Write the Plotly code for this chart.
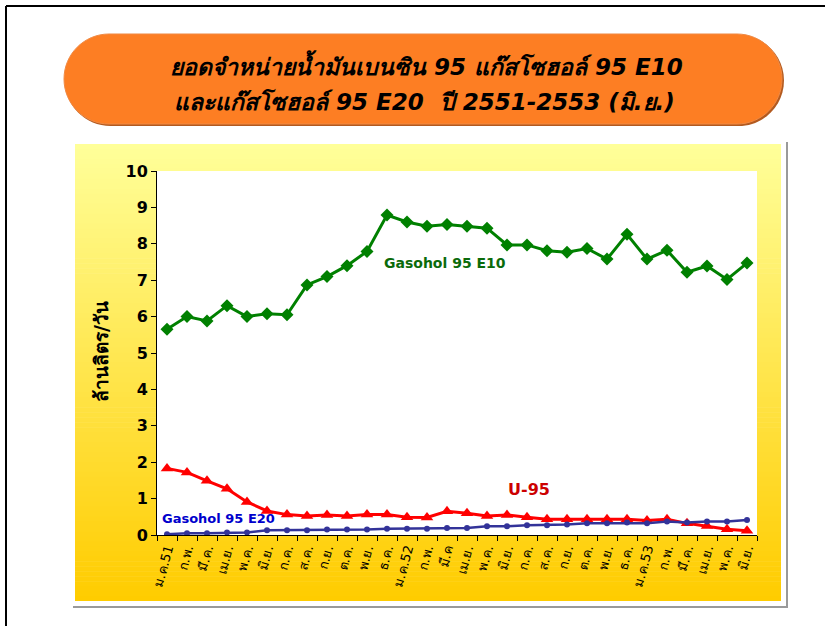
import plotly.graph_objects as go

months = ["ม.ค.51", "ก.พ.", "มี.ค.", "เม.ย.", "พ.ค.", "มิ.ย.", "ก.ค.", "ส.ค.", "ก.ย.", "ต.ค.",
          "พ.ย.", "ธ.ค.", "ม.ค.52", "ก.พ.", "มี.ค", "เม.ย.", "พ.ค.", "มิ.ย.", "ก.ค.", "ส.ค.",
          "ก.ย.", "ต.ค.", "พ.ย.", "ธ.ค.", "ม.ค.53", "ก.พ.", "มี.ค.", "เม.ย.", "พ.ค.", "มิ.ย."]

gasohol_e10 = [5.65, 6.00, 5.88, 6.30, 6.00, 6.08, 6.05, 6.87, 7.10, 7.40,
               7.79, 8.79, 8.60, 8.48, 8.53, 8.48, 8.43, 7.97, 7.97, 7.81,
               7.77, 7.87, 7.58, 8.26, 7.58, 7.82, 7.22, 7.39, 7.02, 7.47]

u95 = [1.83, 1.72, 1.49, 1.27, 0.91, 0.66, 0.56, 0.52, 0.55, 0.52,
       0.56, 0.56, 0.49, 0.48, 0.65, 0.60, 0.52, 0.55, 0.49, 0.43,
       0.43, 0.43, 0.43, 0.43, 0.40, 0.43, 0.32, 0.25, 0.16, 0.12]

gasohol_e20 = [0.02, 0.05, 0.05, 0.07, 0.07, 0.13, 0.13, 0.13, 0.15, 0.15,
               0.15, 0.17, 0.17, 0.17, 0.19, 0.19, 0.24, 0.24, 0.27, 0.27,
               0.29, 0.32, 0.32, 0.34, 0.32, 0.37, 0.34, 0.37, 0.37, 0.41]

y_ticks = [0, 1, 2, 3, 4, 5, 6, 7, 8, 9, 10]

title_line1 = "ยอดจำหน่ายน้ำมันเบนซิน 95 แก๊สโซฮอล์ 95 E10"
title_line2 = "และแก๊สโซฮอล์ 95 E20  ปี 2551-2553 (มิ.ย.)"
y_title = "ล้านลิตร/วัน"

W, H = 825, 626
L, R, T, B = 157, 757, 171, 535
FONT = "Tahoma, 'DejaVu Sans', 'Noto Sans', sans-serif"


def px(x):
    return (x - L) / (R - L)


def py(y):
    return (B - y) / (B - T)


x = list(range(len(months)))

fig = go.Figure()
fig.add_trace(go.Scatter(x=x, y=gasohol_e10, mode="lines+markers", name="Gasohol 95 E10",
                         line=dict(color="#008000", width=3),
                         marker=dict(symbol="diamond", size=10, color="#008000")))
fig.add_trace(go.Scatter(x=x, y=u95, mode="lines+markers", name="U-95",
                         line=dict(color="#FF0000", width=3),
                         marker=dict(symbol="triangle-up", size=11, color="#FF0000")))
fig.add_trace(go.Scatter(x=x, y=gasohol_e20, mode="lines+markers", name="Gasohol 95 E20",
                         line=dict(color="#333399", width=2.5),
                         marker=dict(symbol="circle", size=6, color="#333399")))

shapes = []
# outer frame lines
shapes.append(dict(type="line", xref="paper", yref="paper", x0=px(6), x1=px(826), y0=py(6), y1=py(6),
                   line=dict(color="black", width=2), layer="below"))
shapes.append(dict(type="line", xref="paper", yref="paper", x0=px(6), x1=px(6), y0=py(6), y1=py(627),
                   line=dict(color="black", width=2), layer="below"))


def pill(x0, y0, x1, y1):
    r = (y1 - y0) / 2.0
    k = 0.5523 * r
    xl, xr = x0 + r, x1 - r
    ym = (y0 + y1) / 2.0
    pts = []
    pts.append("M%f,%f" % (px(xl), py(y0)))
    pts.append("L%f,%f" % (px(xr), py(y0)))
    pts.append("C%f,%f %f,%f %f,%f" % (px(xr + k), py(y0), px(x1), py(ym - k), px(x1), py(ym)))
    pts.append("C%f,%f %f,%f %f,%f" % (px(x1), py(ym + k), px(xr + k), py(y1), px(xr), py(y1)))
    pts.append("L%f,%f" % (px(xl), py(y1)))
    pts.append("C%f,%f %f,%f %f,%f" % (px(xl - k), py(y1), px(x0), py(ym + k), px(x0), py(ym)))
    pts.append("C%f,%f %f,%f %f,%f" % (px(x0), py(ym - k), px(xl - k), py(y0), px(xl), py(y0)))
    pts.append("Z")
    return " ".join(pts)


# title pill shadow + pill
shapes.append(dict(type="path", xref="paper", yref="paper", path=pill(65, 35, 784, 126),
                   fillcolor="#B35A1F", line=dict(width=0), layer="below"))
shapes.append(dict(type="path", xref="paper", yref="paper", path=pill(64, 34, 782, 124),
                   fillcolor="#FD7E23", line=dict(color="#F08A45", width=1), layer="below"))

# chart box shadow
shapes.append(dict(type="line", xref="paper", yref="paper", x0=px(787), x1=px(787), y0=py(142), y1=py(608),
                   line=dict(color="#9A9A9A", width=2), layer="below"))
shapes.append(dict(type="line", xref="paper", yref="paper", x0=px(73), x1=px(788), y0=py(607), y1=py(607),
                   line=dict(color="#9A9A9A", width=2), layer="below"))

# yellow gradient box
bx0, bx1, by0, by1 = 75, 781, 144, 601
n = 92
c_top = (255, 255, 153)
c_bot = (255, 204, 0)
step = (by1 - by0) / n
for i in range(n):
    t = i / (n - 1)
    c = tuple(int(round(c_top[j] + (c_bot[j] - c_top[j]) * t)) for j in range(3))
    ya = by0 + i * step
    yb = min(by1, ya + step + 0.6)
    shapes.append(dict(type="rect", xref="paper", yref="paper", x0=px(bx0), x1=px(bx1),
                       y0=py(ya), y1=py(yb), fillcolor="rgb(%d,%d,%d)" % c,
                       line=dict(width=0), layer="below"))
# white plot area
shapes.append(dict(type="rect", xref="paper", yref="paper", x0=0, x1=1, y0=0, y1=1,
                   fillcolor="white", line=dict(width=0), layer="below"))

annotations = [
    dict(text=title_line1, xref="paper", yref="paper", x=px(426), y=py(65), showarrow=False,
         font=dict(family=FONT, size=23, color="black", weight="bold", style="italic"),
         xanchor="center", yanchor="middle"),
    dict(text=title_line2, xref="paper", yref="paper", x=px(424), y=py(101), showarrow=False,
         font=dict(family=FONT, size=23, color="black", weight="bold", style="italic"),
         xanchor="center", yanchor="middle"),
    dict(text=y_title, xref="paper", yref="paper", x=px(101), y=py(352), showarrow=False,
         textangle=-90, font=dict(family=FONT, size=19, color="black", weight="bold"),
         xanchor="center", yanchor="middle"),
    dict(text="Gasohol 95 E10", xref="paper", yref="paper", x=px(445), y=py(263), showarrow=False,
         font=dict(family=FONT, size=14, color="#0B6B0B", weight="bold"),
         xanchor="center", yanchor="middle"),
    dict(text="U-95", xref="paper", yref="paper", x=px(529), y=py(489), showarrow=False,
         font=dict(family=FONT, size=16, color="#CC0000", weight="bold"),
         xanchor="center", yanchor="middle"),
    dict(text="Gasohol 95 E20", xref="paper", yref="paper", x=px(218), y=py(518), showarrow=False,
         font=dict(family=FONT, size=13, color="#0000CC", weight="bold"),
         xanchor="center", yanchor="middle"),
]

fig.update_layout(
    width=W, height=H,
    margin=dict(l=L, r=W - R, t=T, b=H - B, pad=0),
    paper_bgcolor="white",
    plot_bgcolor="rgba(0,0,0,0)",
    showlegend=False,
    hovermode=False,
    shapes=shapes,
    annotations=annotations,
    xaxis=dict(
        range=[-0.5, len(months) - 0.5],
        tickmode="array", tickvals=x, ticktext=months, ticks="",
        tickangle=-75, tickfont=dict(family=FONT, size=13, color="black"),
        showgrid=False, zeroline=False,
        showline=True, linecolor="black", linewidth=1,
        minor=dict(tickmode="array", tickvals=[i - 0.5 for i in range(len(months) + 1)],
                   ticks="outside", ticklen=5, tickcolor="black", tickwidth=1, showgrid=False),
    ),
    yaxis=dict(
        range=[0, 10], tickmode="array", tickvals=y_ticks,
        ticks="outside", ticklen=5, tickcolor="black", tickwidth=1,
        tickfont=dict(family=FONT, size=16, color="black", weight="bold"),
        showgrid=False, zeroline=False,
        showline=True, linecolor="black", linewidth=1,
    ),
)

fig.write_html("out.html", config={"displayModeBar": False},
               post_script="document.body.style.margin='0';")
